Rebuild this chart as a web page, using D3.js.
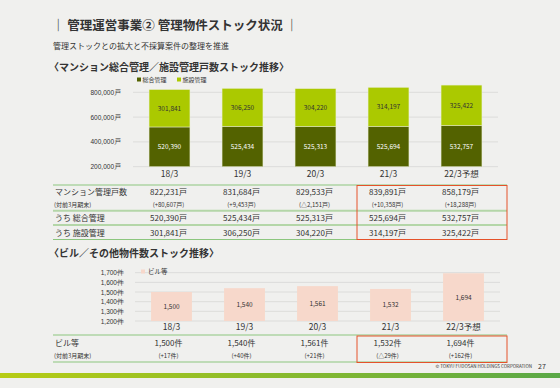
<!DOCTYPE html>
<html>
<head>
<meta charset="utf-8">
<script src="https://cdn.jsdelivr.net/npm/d3@7"></script>
<style>
  body { margin: 0; background: #f0f0ee; }
  svg { display: block; font-family: "Noto Sans CJK JP", "Noto Sans", sans-serif; }
</style>
</head>
<body>
<div id="chart"></div>
<script>
// Data
const periods = ['18/3', '19/3', '20/3', '21/3', '22/3予想'];
const generalMgmt = [520390, 525434, 525313, 525694, 532757];
const facilityMgmt = [301841, 306250, 304220, 314197, 325422];
const condoTotal = [822231, 831684, 829533, 839891, 858179];
const condoChange = ['(+80,607戸)', '(+9,453戸)', '(△2,151戸)', '(+10,358戸)', '(+18,288戸)'];
const condoTicks = [200000, 400000, 600000, 800000];

const buildings = [1500, 1540, 1561, 1532, 1694];
const buildingChange = ['(+17件)', '(+40件)', '(+21件)', '(△29件)', '(+162件)'];
const buildingTicks = [1200, 1300, 1400, 1500, 1600, 1700];

const DARK = '#536200';
const LIGHT = '#abc900';
const PINK = '#f7d8cb';
const TEXT = '#333';
const RED = '#e5522a';

const W = 560, H = 388;
const svg = d3.select('#chart').append('svg').attr('width', W).attr('height', H);
const fmt = d3.format(',');

// Header
svg.append('text').attr('x', 52).attr('y', 30)
    .attr('font-size', 12.5).attr('font-weight', 'bold').attr('fill', TEXT)
    .text('｜ 管理運営事業② 管理物件ストック状況 ｜');
svg.append('text').attr('x', 53).attr('y', 49)
    .attr('font-size', 8).attr('fill', TEXT)
    .text('管理ストックとの拡大と不採算案件の整理を推進');
svg.append('text').attr('x', 49).attr('y', 71)
    .attr('font-size', 10).attr('font-weight', 'bold').attr('fill', TEXT)
    .text('〈マンション総合管理／施設管理戸数ストック推移〉');

// Legend
[[DARK, '総合管理', 137], [LIGHT, '施設管理', 177]].forEach(function(d) {
  svg.append('rect').attr('x', d[2]).attr('y', 77.5).attr('width', 4).attr('height', 4).attr('fill', d[0]);
  svg.append('text').attr('x', d[2] + 5.5).attr('y', 82).attr('font-size', 6).attr('fill', TEXT).text(d[1]);
});

// Top chart
const x1 = d3.scaleBand().domain(periods).range([133, 498]).paddingInner(0.44).paddingOuter(0.22);
const y1 = d3.scaleLinear().domain([200000, 800000]).range([166.7, 92.3]);

const g1 = svg.append('g');
g1.selectAll('line.grid').data(condoTicks).join('line')
    .attr('x1', 133).attr('x2', 498)
    .attr('y1', function(d) { return y1(d); }).attr('y2', function(d) { return y1(d); })
    .attr('stroke', '#dcdcda').attr('stroke-width', 1);

const ax1 = g1.append('g').attr('transform', 'translate(124,0)')
    .call(d3.axisLeft(y1).tickValues(condoTicks).tickSize(0).tickFormat(function(d) { return fmt(d) + '戸'; }));
ax1.select('.domain').remove();
ax1.selectAll('text').attr('font-size', 6.5).attr('fill', TEXT).attr('font-family', 'inherit');

periods.forEach(function(p, i) {
  const bx = x1(p), bw = x1.bandwidth();
  g1.append('rect').attr('x', bx).attr('width', bw)
      .attr('y', y1(generalMgmt[i])).attr('height', y1(200000) - y1(generalMgmt[i]))
      .attr('fill', DARK).attr('stroke', '#e8eccf').attr('stroke-width', 0.5);
  g1.append('rect').attr('x', bx).attr('width', bw)
      .attr('y', y1(condoTotal[i])).attr('height', y1(generalMgmt[i]) - y1(condoTotal[i]))
      .attr('fill', LIGHT).attr('stroke', '#e8eccf').attr('stroke-width', 0.5);
  g1.append('text').attr('x', bx + bw / 2).attr('y', (y1(generalMgmt[i]) + y1(200000)) / 2 + 2.5)
      .attr('text-anchor', 'middle').attr('font-size', 6.5).attr('fill', '#fff').text(fmt(generalMgmt[i]));
  g1.append('text').attr('x', bx + bw / 2).attr('y', (y1(generalMgmt[i]) + y1(condoTotal[i])) / 2 + 2.5)
      .attr('text-anchor', 'middle').attr('font-size', 6.5).attr('fill', TEXT).text(fmt(facilityMgmt[i]));
  g1.append('text').attr('x', bx + bw / 2).attr('y', 177)
      .attr('text-anchor', 'middle').attr('font-size', 8.5).attr('fill', TEXT).text(p);
});

// Table 1
const colX = function(i) { return x1(periods[i]) + x1.bandwidth() / 2 - 1; };
const t1 = svg.append('g');
t1.append('line').attr('x1', 53).attr('x2', 507).attr('y1', 185).attr('y2', 185).attr('stroke', '#8cc67e').attr('stroke-width', 1);
[210.7, 225].forEach(function(yy) {
  t1.append('line').attr('x1', 53).attr('x2', 507).attr('y1', yy).attr('y2', yy).attr('stroke', '#b4d6a8').attr('stroke-width', 2);
});
t1.append('line').attr('x1', 53).attr('x2', 507).attr('y1', 239.5).attr('y2', 239.5).attr('stroke', '#8cc67e').attr('stroke-width', 1);

const rowLabels = [['マンション管理戸数', 195, 8], ['(対前3月期末)', 206.5, 6], ['うち 総合管理', 221, 8], ['うち 施設管理', 235.5, 8]];
rowLabels.forEach(function(r) {
  t1.append('text').attr('x', r[0][0] === '(' ? 54 : 55).attr('y', r[1]).attr('font-size', r[2]).attr('fill', TEXT).text(r[0]);
});
periods.forEach(function(p, i) {
  const cx = colX(i);
  t1.append('text').attr('x', cx).attr('y', 195).attr('text-anchor', 'middle').attr('font-size', 8).attr('fill', TEXT).text(fmt(condoTotal[i]) + '戸');
  t1.append('text').attr('x', cx).attr('y', 206.5).attr('text-anchor', 'middle').attr('font-size', 6).attr('fill', TEXT).text(condoChange[i]);
  t1.append('text').attr('x', cx).attr('y', 221).attr('text-anchor', 'middle').attr('font-size', 8).attr('fill', TEXT).text(fmt(generalMgmt[i]) + '戸');
  t1.append('text').attr('x', cx).attr('y', 235.5).attr('text-anchor', 'middle').attr('font-size', 8).attr('fill', TEXT).text(fmt(facilityMgmt[i]) + '戸');
});
t1.append('rect').attr('x', 357).attr('y', 185.5).attr('width', 150).attr('height', 54)
    .attr('fill', 'none').attr('stroke', RED).attr('stroke-width', 1);

// Second section
svg.append('text').attr('x', 49).attr('y', 257)
    .attr('font-size', 10).attr('font-weight', 'bold').attr('fill', TEXT)
    .text('〈ビル／その他物件数ストック推移〉');

const x2 = d3.scaleBand().domain(periods).range([135, 500]).paddingInner(0.44).paddingOuter(0.22);
const y2 = d3.scaleLinear().domain([1200, 1700]).range([321, 272.7]);
const g2 = svg.append('g');
g2.selectAll('line.grid').data(buildingTicks).join('line')
    .attr('x1', 135).attr('x2', 500)
    .attr('y1', function(d) { return y2(d); }).attr('y2', function(d) { return y2(d); })
    .attr('stroke', '#dcdcda').attr('stroke-width', 1);
const ax2 = g2.append('g').attr('transform', 'translate(127,0)')
    .call(d3.axisLeft(y2).tickValues(buildingTicks).tickSize(0).tickFormat(function(d) { return fmt(d) + '件'; }));
ax2.select('.domain').remove();
ax2.selectAll('text').attr('font-size', 6.5).attr('fill', TEXT).attr('font-family', 'inherit');

g2.append('rect').attr('x', 141).attr('y', 269.5).attr('width', 4).attr('height', 4).attr('fill', PINK);
g2.append('text').attr('x', 148).attr('y', 274).attr('font-size', 6.5).attr('fill', TEXT).text('ビル等');

periods.forEach(function(p, i) {
  const bx = x2(p), bw = x2.bandwidth();
  g2.append('rect').attr('x', bx).attr('width', bw)
      .attr('y', y2(buildings[i])).attr('height', y2(1200) - y2(buildings[i]))
      .attr('fill', PINK);
  g2.append('text').attr('x', bx + bw / 2).attr('y', (y2(buildings[i]) + y2(1200)) / 2 + 2.5)
      .attr('text-anchor', 'middle').attr('font-size', 6.5).attr('fill', TEXT).text(fmt(buildings[i]));
  g2.append('text').attr('x', bx + bw / 2).attr('y', 330)
      .attr('text-anchor', 'middle').attr('font-size', 8.5).attr('fill', TEXT).text(p);
});

// Table 2
const t2 = svg.append('g');
t2.append('line').attr('x1', 53).attr('x2', 507).attr('y1', 335).attr('y2', 335).attr('stroke', '#8cc67e').attr('stroke-width', 1);
t2.append('line').attr('x1', 53).attr('x2', 507).attr('y1', 362).attr('y2', 362).attr('stroke', '#8cc67e').attr('stroke-width', 1);
t2.append('text').attr('x', 55).attr('y', 346).attr('font-size', 8).attr('fill', TEXT).text('ビル等');
t2.append('text').attr('x', 54).attr('y', 357.5).attr('font-size', 6).attr('fill', TEXT).text('(対前3月期末)');
periods.forEach(function(p, i) {
  const cx = colX(i);
  t2.append('text').attr('x', cx).attr('y', 346).attr('text-anchor', 'middle').attr('font-size', 8).attr('fill', TEXT).text(fmt(buildings[i]) + '件');
  t2.append('text').attr('x', cx).attr('y', 357.5).attr('text-anchor', 'middle').attr('font-size', 6).attr('fill', TEXT).text(buildingChange[i]);
});
t2.append('rect').attr('x', 357).attr('y', 336).attr('width', 150).attr('height', 26.5)
    .attr('fill', 'none').attr('stroke', RED).attr('stroke-width', 1);

// Footer
svg.append('text').attr('x', 532).attr('y', 368).attr('text-anchor', 'end')
    .attr('font-size', 4.5).attr('fill', TEXT).text('© TOKYU FUDOSAN HOLDINGS CORPORATION');
svg.append('text').attr('x', 538).attr('y', 369).attr('font-size', 7).attr('fill', TEXT).text('27');

const grad = svg.append('defs').append('linearGradient').attr('id', 'footbar');
grad.append('stop').attr('offset', '0%').attr('stop-color', '#b7cc14');
grad.append('stop').attr('offset', '100%').attr('stop-color', '#5aa847');
svg.append('rect').attr('x', 0).attr('y', 373).attr('width', W).attr('height', 5).attr('fill', 'url(#footbar)');
</script>
</body>
</html>
